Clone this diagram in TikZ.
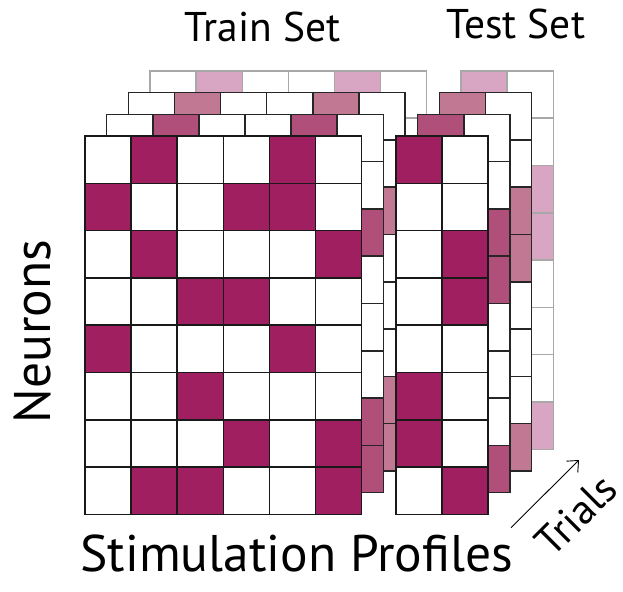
\documentclass[tikz,border=0pt]{standalone}
\usepackage{fontspec}
\setmainfont{PT Sans}
\usepackage{tikz}
\usetikzlibrary{arrows.meta}

\definecolor{rosa0}{HTML}{A01F60}
\definecolor{rosa1}{HTML}{B0507A}
\definecolor{rosa2}{HTML}{C07893}
\definecolor{rosa3}{HTML}{D8A5C2}
\definecolor{voraclara}{HTML}{A8A8A8}

\begin{document}
\begin{tikzpicture}[x=1pt, y=-1pt, line width=1.5pt,
    titol/.style={inner sep=0pt, anchor=base, font=\fontsize{41.5}{41.5}\selectfont},
    eix/.style={inner sep=0pt, anchor=base, font=\fontsize{51.5}{51.5}\selectfont}]
    \useasboundingbox (0,0) rectangle (623,591);

    % CAPES DE TRIALS (primer la del fons)
    \foreach \k/\ple/\vora in {3/rosa3/voraclara, 2/rosa2/black!85, 1/rosa1/black!85, 0/rosa0/black!90} {
        % Entrenament: 6 columnes x 8 files
        \foreach \c in {0,...,5} \foreach \r in {0,...,7}
            \draw[\vora, fill=white] ({85+21.7*\k+46.1*\c}, {136-21.7*\k+47.3*\r}) rectangle ++(46.1, 47.3);
        \foreach \c/\r in {1/0, 4/0, 0/1, 3/1, 4/1, 1/2, 5/2, 2/3, 3/3, 0/4, 4/4,
                           2/5, 3/6, 5/6, 1/7, 2/7, 5/7}
            \draw[\vora, fill=\ple] ({85+21.7*\k+46.1*\c}, {136-21.7*\k+47.3*\r}) rectangle ++(46.1, 47.3);
        % Test: 2 columnes x 8 files
        \foreach \c in {0,1} \foreach \r in {0,...,7}
            \draw[\vora, fill=white] ({396+21.7*\k+46.1*\c}, {136-21.7*\k+47.3*\r}) rectangle ++(46.1, 47.3);
        \foreach \c/\r in {0/0, 1/2, 1/3, 0/5, 0/6, 1/7}
            \draw[\vora, fill=\ple] ({396+21.7*\k+46.1*\c}, {136-21.7*\k+47.3*\r}) rectangle ++(46.1, 47.3);
    }

    % TITOLS
    \node[titol] (train) at (262.5, 41.7) {Train Set};
    \node[titol] (test) at (515.8, 39) {Test Set};

    % EIXOS
    \node[eix, rotate=90] (neurons) at (50, 331.5) {Neurons};
    \node[eix] (stim) at (296.7, 571.7) {Stimulation Profiles};

    % FLETXA DELS TRIALS
    \coordinate (t0) at (511, 527.7);
    \coordinate (t1) at (579, 460);
    \draw[line width=0.9pt, -{Straight Barb[length=9pt, width=16pt]}] (t0) -- (t1);
    \node[titol, anchor=center, rotate=45] (trials) at (576, 515) {Trials};

\end{tikzpicture}
\end{document}
